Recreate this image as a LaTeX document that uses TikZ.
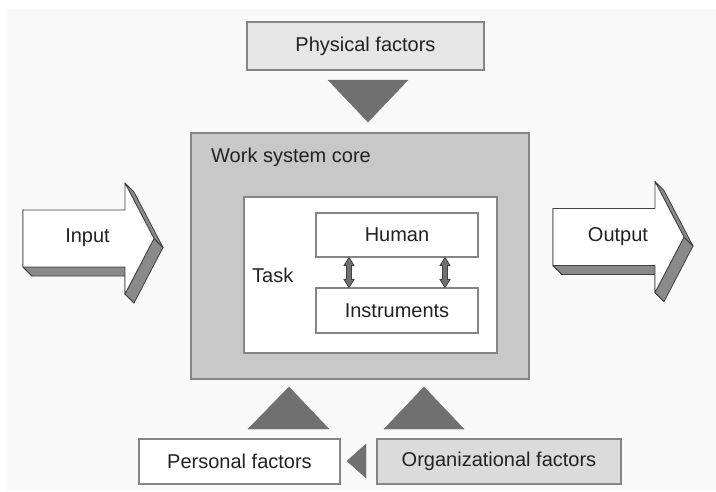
\documentclass[tikz,border=0pt]{standalone}
\usepackage{fontspec}
\setmainfont{Liberation Sans}
\usetikzlibrary{calc}
\definecolor{bgc}{HTML}{F9F9F9}
\definecolor{corec}{HTML}{C8C8C8}
\definecolor{physc}{HTML}{E6E6E6}
\definecolor{orgc}{HTML}{DBDBDB}
\definecolor{tric}{HTML}{707070}
\definecolor{linec}{HTML}{858585}
\definecolor{txtc}{HTML}{222222}
\definecolor{shadc}{HTML}{8A8A8A}
\tikzset{
  every node/.style={text=txtc, font=\fontsize{20}{24}\selectfont},
  box/.style={draw=linec, line width=1.3pt, inner sep=0pt, rectangle},
  tri/.style={fill=tric, draw=tric, line width=0.4pt},
  dbl/.pic={
    \filldraw[fill=tric, draw=darkgray, line width=0.8pt]
      (0,-15) -- (5,-7) -- (2.5,-7) -- (2.5,7) -- (5,7) -- (0,15)
      -- (-5,7) -- (-2.5,7) -- (-2.5,-7) -- (-5,-7) -- cycle;
  },
  fatarrow/.pic={
    \coordinate (p1) at (0,-28.5);
    \coordinate (p2) at (102,-28.5);
    \coordinate (p3) at (102,-55.5);
    \coordinate (p4) at (131,0);
    \coordinate (p5) at (102,55.5);
    \coordinate (p6) at (102,28.5);
    \coordinate (p7) at (0,28.5);
    \foreach \a/\b in {p7/p1,p6/p5,p7/p6,p5/p4,p3/p4}{
      \filldraw[fill=shadc, draw=darkgray, line width=0.8pt, line join=round]
        (\a) -- (\b) -- ($(\b)+(9,9)$) -- ($(\a)+(9,9)$) -- cycle;
    }
    \filldraw[fill=white, draw=darkgray, line width=0.8pt, line join=round]
      (p1) -- (p2) -- (p3) -- (p4) -- (p5) -- (p6) -- (p7) -- cycle;
  }
}
\begin{document}
\begin{tikzpicture}[x=1pt, y=-1pt]
\useasboundingbox (0,0) rectangle (716,491);
\fill[white] (0,0) rectangle (716,491);
\fill[bgc] (7,9) rectangle (716,491);

% top factor
\node[box, fill=physc, minimum width=237pt, minimum height=48pt] (phys) at (365.5,46) {Physical factors};
\fill[tri] (328,80) -- (408,80) -- (368,122) -- cycle;

% core
\node[box, fill=corec, line width=1.8pt, minimum width=338pt, minimum height=246pt] (core) at (360,256) {};
\node[anchor=base west, inner sep=0pt] (coretxt) at (211,162) {Work system core};
\node[box, fill=white, line width=1.2pt, minimum width=253pt, minimum height=156pt] (task) at (370.5,275) {};
\node[anchor=base west, inner sep=0pt] (tasktxt) at (252,282) {Task};
\node[box, fill=white, line width=1.2pt, minimum width=162pt, minimum height=44pt] (human) at (397,235) {Human};
\node[box, fill=white, line width=1.2pt, minimum width=162pt, minimum height=45pt] (instr) at (397,310.5) {Instruments};
\pic at ($(human.south)!0.5!(instr.north)+(-48,0)$) {dbl};
\pic at ($(human.south)!0.5!(instr.north)+(48,0)$) {dbl};

% input / output arrows
\pic at (23,238.5) {fatarrow};
\node (input) at (87.5,238) {Input};
\pic at (553,237) {fatarrow};
\node (output) at (618,236.5) {Output};

% bottom factors
\fill[tri] (248,429) -- (329,429) -- (289,387) -- cycle;
\fill[tri] (384,429) -- (464,429) -- (424,387) -- cycle;
\node[box, fill=white, minimum width=201pt, minimum height=45pt] (pers) at (239.5,461.5) {Personal factors};
\node[box, fill=orgc, minimum width=244pt, minimum height=45pt] (org) at (499,461.5) {Organizational factors};
\fill[tri] (366,444) -- (366,478) -- (347,461) -- cycle;
\end{tikzpicture}
\end{document}
